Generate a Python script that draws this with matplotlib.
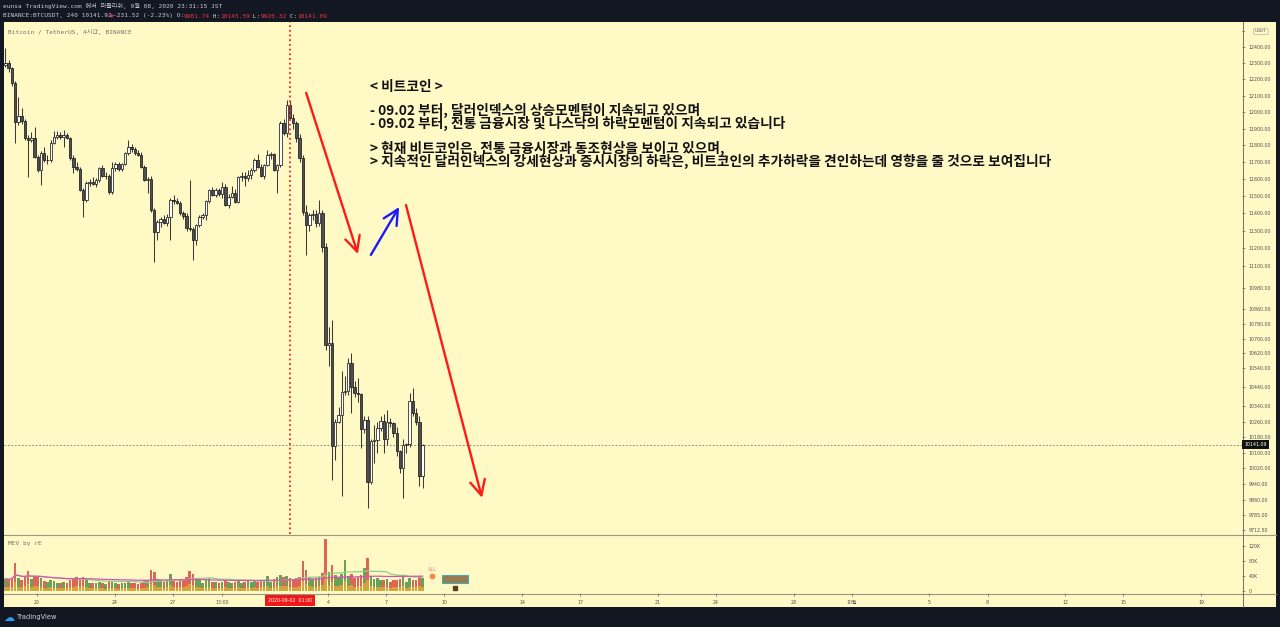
import numpy as np
import pandas as pd
import matplotlib
matplotlib.use('Agg')
import matplotlib.pyplot as plt
from matplotlib.patches import Rectangle
from matplotlib.lines import Line2D
import matplotlib.transforms as mtransforms
from matplotlib.ticker import NullLocator, FixedLocator, FixedFormatter

plt.rcParams['font.family'] = ['DejaVu Sans', 'Noto Sans CJK KR']

# ---------------- data ----------------
first_candle = '2020-08-18 09:00'   # JST, 4h candles
opens = [12290, 12300, 12268, 12176, 11937, 11977, 11944, 11842, 11832, 11842,
         11733, 11653, 11752, 11710, 11712, 11816, 11852, 11862, 11852, 11862,
         11842, 11723, 11673, 11660, 11536, 11478, 11579, 11585, 11572, 11595,
         11663, 11615, 11620, 11526, 11663, 11689, 11660, 11689, 11752, 11792,
         11775, 11752, 11745, 11673, 11595, 11600, 11420, 11295, 11352, 11365,
         11346, 11381, 11478, 11474, 11463, 11400, 11385, 11314, 11308, 11248,
         11333, 11381, 11391, 11474, 11536, 11505, 11536, 11510, 11551, 11449,
         11497, 11520, 11468, 11614, 11617, 11605, 11623, 11653, 11713, 11672,
         11617, 11682, 11742, 11746, 11653, 11682, 11932, 11871, 12043, 11962,
         11932, 11841, 11722, 11410, 11334, 11391, 11395, 11343, 11400, 11210,
         10666, 10678, 10134, 10260, 10295, 10416, 10420, 10568, 10443, 10408,
         10404, 10220, 10268, 9953, 10161, 10165, 10225, 10265, 10168, 10255,
         10251, 10199, 10110, 10020, 10139, 10144, 10369, 10303, 10260, 9981.74]
highs = [12394, 12320, 12280, 12190, 12093, 12023, 11960, 11860, 11880, 11908,
         11745, 11765, 11790, 11740, 11830, 11884, 11884, 11880, 11890, 11875,
         11850, 11740, 11700, 11670, 11545, 11590, 11600, 11610, 11605, 11670,
         11680, 11640, 11630, 11700, 11700, 11700, 11695, 11760, 11832, 11810,
         11790, 11770, 11760, 11680, 11614, 11615, 11430, 11360, 11380, 11390,
         11395, 11490, 11507, 11490, 11470, 11415, 11400, 11594, 11323, 11340,
         11390, 11400, 11480, 11540, 11555, 11545, 11550, 11580, 11570, 11510,
         11560, 11540, 11620, 11640, 11640, 11653, 11665, 11722, 11750, 11690,
         11690, 11770, 11760, 11755, 11690, 11945, 11960, 12075, 12070, 11990,
         11945, 11870, 11740, 11450, 11400, 11420, 11420, 11478, 11420, 11230,
         10765, 10801, 10275, 10338, 10524, 10498, 10594, 10621, 10470, 10489,
         10410, 10290, 10290, 10170, 10242, 10260, 10290, 10300, 10320, 10280,
         10260, 10230, 10115, 10170, 10150, 10408, 10437, 10330, 10290, 10145.59]
lows = [12277, 12247, 12160, 11815, 11920, 11930, 11830, 11614, 11820, 11725,
        11640, 11565, 11700, 11690, 11700, 11810, 11835, 11840, 11790, 11835,
        11715, 11634, 11645, 11530, 11381, 11465, 11560, 11565, 11555, 11580,
        11610, 11600, 11515, 11515, 11650, 11650, 11645, 11680, 11740, 11760,
        11740, 11735, 11665, 11590, 11516, 11410, 11125, 11250, 11320, 11340,
        11330, 11248, 11455, 11455, 11390, 11370, 11300, 11300, 11135, 11220,
        11320, 11370, 11360, 11460, 11500, 11495, 11500, 11490, 11440, 11430,
        11490, 11460, 11460, 11590, 11560, 11590, 11600, 11640, 11665, 11610,
        11600, 11675, 11720, 11645, 11516, 11670, 11860, 11850, 11950, 11900,
        11820, 11700, 11390, 11163, 11300, 11360, 11320, 11330, 11180, 10640,
        10550, 9962, 10062, 10250, 9879, 10400, 10400, 10303, 10390, 10364,
        10122, 10200, 9822, 9940, 10045, 10100, 10210, 10100, 10140, 10230,
        10180, 10080, 9995, 9871, 10100, 10130, 10290, 10240, 9928, 9920.32]
closes = [12300, 12268, 12176, 11937, 11977, 11944, 11842, 11832, 11842, 11733,
          11653, 11752, 11710, 11712, 11816, 11852, 11862, 11852, 11862, 11842,
          11723, 11673, 11660, 11536, 11478, 11579, 11585, 11572, 11595, 11663,
          11615, 11620, 11526, 11663, 11689, 11660, 11689, 11752, 11792, 11775,
          11752, 11745, 11673, 11595, 11600, 11420, 11295, 11352, 11365, 11346,
          11381, 11478, 11474, 11463, 11400, 11385, 11314, 11308, 11248, 11333,
          11381, 11391, 11474, 11536, 11505, 11536, 11510, 11551, 11449, 11497,
          11520, 11468, 11614, 11617, 11605, 11623, 11653, 11713, 11672, 11617,
          11682, 11742, 11746, 11653, 11682, 11932, 11871, 12043, 11962, 11932,
          11841, 11722, 11410, 11334, 11391, 11395, 11343, 11400, 11210, 10666,
          10678, 10134, 10260, 10295, 10416, 10420, 10568, 10443, 10408, 10404,
          10220, 10268, 9953, 10161, 10165, 10225, 10265, 10168, 10255, 10251,
          10199, 10110, 10020, 10139, 10144, 10369, 10303, 10260, 9982, 10141.09]
volumes_k = [32, 30, 35, 73, 35, 28, 36, 52, 32, 38,
             36, 34, 26, 24, 28, 26, 22, 21, 24, 22,
             28, 32, 36, 34, 36, 30, 22, 21, 20, 24,
             22, 19, 26, 24, 21, 19, 20, 22, 26, 21,
             20, 19, 22, 26, 30, 55, 50, 32, 28, 25,
             28, 46, 30, 25, 32, 28, 36, 54, 44, 32,
             28, 22, 32, 35, 25, 23, 22, 25, 28, 23,
             22, 25, 30, 21, 23, 29, 25, 28, 25, 30,
             28, 40, 25, 32, 38, 42, 36, 40, 33, 30,
             35, 38, 78, 56, 38, 32, 34, 38, 48, 137,
             50, 68, 42, 38, 45, 82, 40, 45, 35, 38,
             42, 62, 87, 40, 32, 35, 28, 30, 32, 25,
             28, 30, 32, 42, 25, 35, 30, 28, 40, 35]

price_ticks = [12400, 12300, 12200, 12100, 12000, 11900, 11800, 11700, 11600,
               11500, 11400, 11300, 11200, 11100, 10980, 10860, 10780, 10700, 10620,
               10540, 10440, 10340, 10260, 10180, 10100, 10020, 9940, 9860, 9785, 9712.5]
volume_ticks = [0, 40, 80, 120]
volume_tick_labels = ['0', '40K', '80K', '120K']
time_tick_dates = ['2020-08-20', '2020-08-24', '2020-08-27', '2020-08-29 13:00', '2020-09-04',
                   '2020-09-07', '2020-09-10', '2020-09-14', '2020-09-17', '2020-09-21',
                   '2020-09-24', '2020-09-28', '2020-10-01', '2020-10-05', '2020-10-08',
                   '2020-10-12', '2020-10-15', '2020-10-19']
time_tick_labels = ['20', '24', '27', '13:00', '4', '7', '10', '14', '17', '21', '24', '28',
                    '10월', '5', '8', '12', '15', '19']
marker_time = '2020-09-02 01:00'
marker_label = '2020-09-02  01:00'
last_price = 10141.09
currency_price = 12500

# drawn arrows: (start time, start price, end time, end price, colour)
arrows = [('2020-09-02 21:00', 12117, '2020-09-05 13:00', 11168, '#ff1a1a'),
          ('2020-09-06 05:00', 11163, '2020-09-07 16:00', 11437, '#1a1aff'),
          ('2020-09-08 00:30', 11448, '2020-09-11 22:30', 9871, '#ff1a1a')]

note_lines = ['< 비트코인 >',
              '',
              '- 09.02 부터, 달러인덱스의 상승모멘텀이 지속되고 있으며',
              '- 09.02 부터, 전통 금융시장 및 나스닥의 하락모멘텀이 지속되고 있습니다',
              '',
              '> 현재 비트코인은, 전통 금융시장과 동조현상을 보이고 있으며,',
              '> 지속적인 달러인덱스의 강세현상과 증시시장의 하락은, 비트코인의 추가하락을 견인하는데 영향을 줄 것으로 보여집니다']

# ---------------- helpers ----------------
W, H = 1280, 627
base = pd.Timestamp('2020-08-20 00:00')


def to_day(t):
    return (pd.Timestamp(t) - base) / pd.Timedelta('1D')


def fx(px):
    return px / W


def fy(py):
    return 1 - py / H


BG = '#fff9c6'
DARK = '#131722'
TXT = '#505050'

O = np.array(opens, float)
Hh = np.array(highs, float)
L = np.array(lows, float)
C = np.array(closes, float)
V = np.array(volumes_k, float)
times = pd.date_range(first_candle, periods=len(O), freq='4h')
xd = np.array([(t - base) / pd.Timedelta('1D') for t in times])
up = C >= O

fig = plt.figure(figsize=(W / 100, H / 100), dpi=100, facecolor=DARK)

# yellow chart background (chart + price scale + time scale)
fig.patches.append(Rectangle((fx(4), fy(607)), fx(1276 - 4), fy(22) - fy(607),
                             transform=fig.transFigure, facecolor=BG, edgecolor='none', zorder=-5))

XMIN, XMAX = -1.70, 62.11
ax = fig.add_axes([fx(4), fy(534), fx(1242 - 4), fy(22) - fy(534)])
vax = fig.add_axes([fx(4), fy(593), fx(1242 - 4), fy(535) - fy(593)], sharex=ax)
for a in (ax, vax):
    a.set_facecolor('none')
    a.set_zorder(2)
    for s in a.spines.values():
        s.set_visible(False)

# ---------------- candles ----------------
ax.set_yscale('log')
ax.vlines(xd, L, Hh, color='#3a3a3a', lw=0.75, zorder=2)
ax.bar(xd, np.abs(C - O), bottom=np.minimum(O, C), width=0.125,
       color=np.where(up, '#ffffff', '#505050'), edgecolor='#1c1c1c', linewidth=0.55, zorder=3)
ax.set_xlim(XMIN, XMAX)
ax.set_ylim(9692, 12560)

ax.yaxis.tick_right()
ax.yaxis.set_major_locator(FixedLocator(price_ticks))
ax.yaxis.set_major_formatter(FixedFormatter(['%.2f' % p for p in price_ticks]))
ax.yaxis.set_minor_locator(NullLocator())
ax.tick_params(axis='y', which='both', right=True, length=2.5, width=0.5, color='#666666',
               labelsize=3.4, labelcolor=TXT, pad=2.5)
ax.tick_params(axis='x', which='both', bottom=False, labelbottom=False)

# separator & current price line
ax.axvline(to_day(marker_time), color='#ff2020', lw=1.3, ls=(0, (1.0, 1.6)), zorder=4)
ax.axhline(last_price, color='#606060', lw=0.5, ls=(0, (2.5, 2.5)), zorder=1)

# arrows
for t0, p0, t1, p1, col in arrows:
    ax.annotate('', xy=(to_day(t1), p1), xytext=(to_day(t0), p0),
                arrowprops=dict(arrowstyle='->,head_length=0.9,head_width=0.45', color=col,
                                lw=1.7, mutation_scale=12, shrinkA=0, shrinkB=0), zorder=6)

# price label of last price
blend = mtransforms.blended_transform_factory(ax.transAxes, ax.transData)
ax.text(1.0017, last_price, '%.2f' % last_price, transform=blend, ha='left', va='center',
        fontsize=3.4, color='white', zorder=10, clip_on=False,
        bbox=dict(facecolor='#101010', edgecolor='none', boxstyle='square,pad=0.45'))
# currency box at the top of the price scale
ax.plot([1.0, 1.002], [currency_price, currency_price], transform=blend, color='#666666',
        lw=0.5, clip_on=False)
ax.text(1.0105, currency_price, 'USDT', transform=blend, ha='left', va='center', fontsize=3.2,
        color=TXT, zorder=10, clip_on=False,
        bbox=dict(facecolor=BG, edgecolor='#a0a0a0', boxstyle='round,pad=0.3', lw=0.4))

# ---------------- volume ----------------
vcol = np.where(up, '#5e9950', '#d95a4c')
vax.bar(xd, V, width=0.135, color=vcol, alpha=0.92, zorder=2)
vax.bar(xd, V * 0.33, width=0.135, color='#e3a03c', alpha=0.9, zorder=3)
vax.bar(xd, V * 0.13, width=0.135, color='#c2b040', alpha=0.95, zorder=4)
vs = pd.Series(V)
vax.plot(xd, vs.rolling(20, min_periods=1).mean(), color='#8fd08c', lw=0.9, zorder=5)
vax.plot(xd, vs.rolling(60, min_periods=1).mean(), color='#d653b4', lw=0.9, zorder=5)
vax.set_ylim(-5.3, 147.8)
vax.yaxis.tick_right()
vax.yaxis.set_major_locator(FixedLocator(volume_ticks))
vax.yaxis.set_major_formatter(FixedFormatter(volume_tick_labels))
vax.tick_params(axis='y', right=True, length=2.5, width=0.5, color='#666666',
                labelsize=3.4, labelcolor=TXT, pad=2.5)
vax.xaxis.set_major_locator(FixedLocator([to_day(t) for t in time_tick_dates]))
vax.xaxis.set_major_formatter(FixedFormatter(time_tick_labels))
vax.tick_params(axis='x', bottom=True, length=2.5, width=0.5, color='#666666',
                labelsize=3.4, labelcolor=TXT, pad=2.5)

# indicator extras
vax.text(20.36, 58, 'ALL', fontsize=3.6, color='#f07a6a', ha='center', va='center')
vax.plot([20.36], [40], 'o', ms=3.2, color='#f5894f', zorder=6)
vax.add_patch(Rectangle((20.85, 22), 1.35, 20, facecolor='#9a7a50', edgecolor='#3ab0b8',
                        lw=0.8, zorder=6))
vax.plot([21.55], [9], 's', ms=2.5, color='#5a4020', zorder=6)

# red time label
tblend = mtransforms.blended_transform_factory(vax.transData, fig.transFigure)
vax.text(to_day(marker_time), fy(600.5), marker_label, transform=tblend, ha='center', va='center',
         fontsize=3.4, color='white', zorder=10, clip_on=False,
         bbox=dict(facecolor='#f01818', edgecolor='none', boxstyle='square,pad=0.6'))

# separator lines
for yy in (534.5, 593.5):
    fig.add_artist(Line2D([fx(4), fx(1276)], [fy(yy), fy(yy)], color='#9a9784', lw=0.8))
fig.add_artist(Line2D([fx(1242.5), fx(1242.5)], [fy(22), fy(607)], color='#5a5a5a', lw=0.6))

# ---------------- texts ----------------
mono = ['DejaVu Sans Mono', 'Noto Sans CJK KR']
fig.text(fx(3), fy(6), 'eunsa TradingView.com 에서 퍼블리쉬, 9월 08, 2020 23:31:15 JST',
         color='#c9ccd4', fontsize=4.4, family=mono, va='center')
segs = [('BINANCE:BTCUSDT, 240 10141.92', '#c9ccd4'), ('▼', '#f23645'),
        ('-231.52 (-2.23%) O:', '#c9ccd4'), ('9981.74', '#f23645'), (' H:', '#c9ccd4'),
        ('10145.59', '#f23645'), (' L:', '#c9ccd4'), ('9920.32', '#f23645'), (' C:', '#c9ccd4'),
        ('10141.09', '#f23645')]
cw = 0.602 * 4.4 / 72 * 100
xpos = 3
for s, c in segs:
    fig.text(fx(xpos), fy(16), s, color=c, fontsize=4.4, family=mono, va='center')
    xpos += len(s) * cw

fig.text(fx(8), fy(32), 'Bitcoin / TetherUS, 4시간, BINANCE', color='#707070', fontsize=4.4,
         family=mono, va='center')
fig.text(fx(8), fy(544), 'MEV by rE', color='#707070', fontsize=4.4, family=mono, va='center')

fig.text(fx(370), fy(79.5), '\n'.join(note_lines), color='#111111', fontsize=9.85,
         family=['Noto Sans CJK KR'], fontweight='bold', va='top', ha='left',
         linespacing=0.81, zorder=8)

fig.text(fx(3), fy(617.5), '☁', color='#2a9df4', fontsize=8, va='center')
fig.text(fx(17), fy(617.5), 'TradingView', color='#d1d4dc', fontsize=4.8, va='center')

fig.savefig('out.png', dpi=100, facecolor=DARK)
